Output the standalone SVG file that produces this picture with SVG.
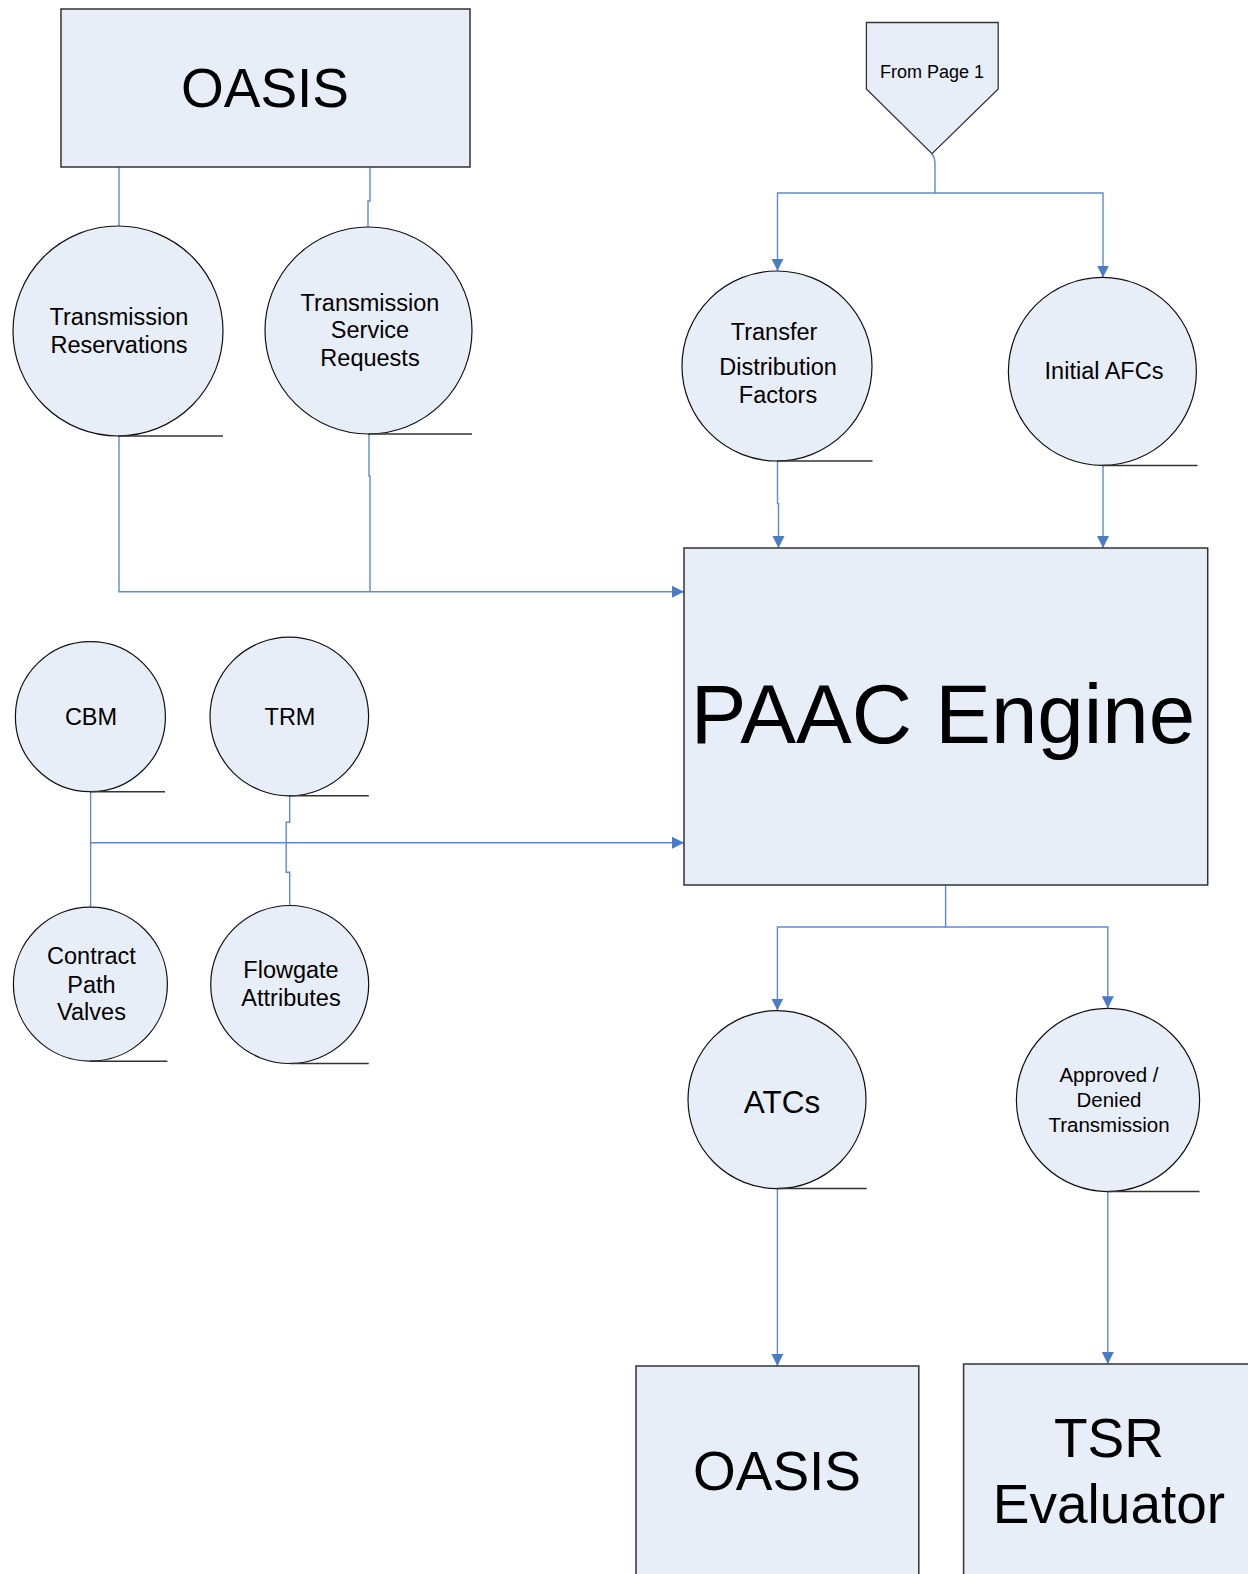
<svg xmlns="http://www.w3.org/2000/svg" width="1248" height="1574" viewBox="0 0 1248 1574">
<style>
.box{fill:#E8EEF8;stroke:#333;stroke-width:1.5}
.circ{fill:#E8EEF8;stroke:#111;stroke-width:1.2}
.tan{stroke:#333;stroke-width:1.5;fill:none}
.con{fill:none;stroke:#5D8AD0;stroke-width:1.4}
text{font-family:"Liberation Sans",Arial,sans-serif;fill:#000;text-anchor:middle}
.t{font-size:23.5px}
</style>
<defs>
<marker id="arr" viewBox="0 0 12 12" refX="12" refY="6" markerWidth="12" markerHeight="13" orient="auto" markerUnits="userSpaceOnUse">
<path d="M0,0 L12,6 L0,12 Z" fill="#4A7BC8"/>
</marker>
</defs>
<rect width="1248" height="1574" fill="#fff"/>
<g id="connectors">
<path class="con" d="M119,167 V226"/>
<path class="con" d="M370,167 V201 H368 V227"/>
<path class="con" d="M119,436 V591.7 H684" marker-end="url(#arr)"/>
<path class="con" d="M369,434 V476 H370 V591.7"/>
<path class="con" d="M932,153.6 Q935,158 935,164 V193 H777.5 V270.7" marker-end="url(#arr)"/>
<path class="con" d="M935,193 H1103 V277.5" marker-end="url(#arr)"/>
<path class="con" d="M777.5,461 V503.6 H778.5 V548" marker-end="url(#arr)"/>
<path class="con" d="M1103,466 V548" marker-end="url(#arr)"/>
<path class="con" d="M90.6,792 V907"/>
<path class="con" d="M90.6,842.7 H684" marker-end="url(#arr)"/>
<path class="con" d="M289.7,795.7 V822.3 H286.2 V872.3 H289.7 V905.7"/>
<path class="con" d="M945.6,885 V927 H777.4 V1010.5" marker-end="url(#arr)"/>
<path class="con" d="M945.6,927 H1107.8 V1008.3" marker-end="url(#arr)"/>
<path class="con" d="M777.4,1189 V1366" marker-end="url(#arr)"/>
<path class="con" d="M1107.8,1192 V1364" marker-end="url(#arr)"/>
</g>
<g id="oasis-top">
<rect class="box" x="61" y="9" width="409" height="158"/>
<text x="265" y="107" style="font-size:55px">OASIS</text>
</g>
<g id="from-page-1">
<polygon class="box" points="866.4,22.5 998.2,22.5 998.2,89 932,153.6 866.4,89" style="stroke-width:1.3"/>
<text x="932" y="77.5" style="font-size:18px">From Page 1</text>
</g>
<g id="transmission-reservations">
<circle class="circ" cx="118" cy="331" r="105"/>
<line class="tan" x1="118" y1="436" x2="223" y2="436"/>
<text class="t" x="119" y="325">Transmission</text>
<text class="t" x="119" y="353">Reservations</text>
</g>
<g id="transmission-service-requests">
<circle class="circ" cx="368.5" cy="330.5" r="103.5"/>
<line class="tan" x1="368" y1="434" x2="472" y2="434"/>
<text class="t" x="370" y="311">Transmission</text>
<text class="t" x="370" y="338">Service</text>
<text class="t" x="370" y="366">Requests</text>
</g>
<g id="transfer-distribution-factors">
<circle class="circ" cx="777" cy="366" r="95"/>
<line class="tan" x1="777" y1="461" x2="872.5" y2="461"/>
<text class="t" x="774" y="340">Transfer</text>
<text class="t" x="778" y="375">Distribution</text>
<text class="t" x="778" y="403">Factors</text>
</g>
<g id="initial-afcs">
<circle class="circ" cx="1102.4" cy="371.4" r="94"/>
<line class="tan" x1="1102" y1="465.5" x2="1197.5" y2="465.5"/>
<text class="t" x="1104" y="379">Initial AFCs</text>
</g>
<g id="paac-engine">
<rect class="box" x="684" y="548" width="523.7" height="337"/>
<text x="943" y="743" style="font-size:83.5px">PAAC Engine</text>
</g>
<g id="cbm">
<circle class="circ" cx="90.4" cy="716.7" r="75"/>
<line class="tan" x1="90" y1="791.7" x2="165" y2="791.7"/>
<text class="t" x="91" y="725">CBM</text>
</g>
<g id="trm">
<circle class="circ" cx="289.3" cy="716.5" r="79.3"/>
<line class="tan" x1="289" y1="795.7" x2="368.8" y2="795.7"/>
<text class="t" x="290" y="725">TRM</text>
</g>
<g id="contract-path-valves">
<circle class="circ" cx="90.4" cy="984.2" r="77"/>
<line class="tan" x1="90" y1="1061.2" x2="167.4" y2="1061.2"/>
<text class="t" x="91.5" y="964">Contract</text>
<text class="t" x="91.5" y="992.5">Path</text>
<text class="t" x="91.5" y="1020">Valves</text>
</g>
<g id="flowgate-attributes">
<circle class="circ" cx="289.7" cy="984.5" r="79"/>
<line class="tan" x1="290" y1="1063.5" x2="368.8" y2="1063.5"/>
<text class="t" x="291" y="978">Flowgate</text>
<text class="t" x="291" y="1006">Attributes</text>
</g>
<g id="atcs">
<circle class="circ" cx="777" cy="1099.6" r="89"/>
<line class="tan" x1="777" y1="1188.6" x2="866.7" y2="1188.6"/>
<text x="782" y="1112.5" style="font-size:31.5px">ATCs</text>
</g>
<g id="approved-denied">
<circle class="circ" cx="1108" cy="1100" r="91.6"/>
<line class="tan" x1="1108" y1="1191.6" x2="1199.5" y2="1191.6"/>
<text x="1109" y="1082" style="font-size:20.5px">Approved /</text>
<text x="1109" y="1106.6" style="font-size:20.5px">Denied</text>
<text x="1109" y="1131.8" style="font-size:20.5px">Transmission</text>
</g>
<g id="oasis-bottom">
<rect class="box" x="636" y="1366" width="282.8" height="230"/>
<text x="777" y="1490" style="font-size:55px">OASIS</text>
</g>
<g id="tsr-evaluator">
<rect class="box" x="963.6" y="1364" width="300" height="230"/>
<text x="1109" y="1457" style="font-size:55px">TSR</text>
<text x="1109" y="1523" style="font-size:55px">Evaluator</text>
</g>
</svg>
